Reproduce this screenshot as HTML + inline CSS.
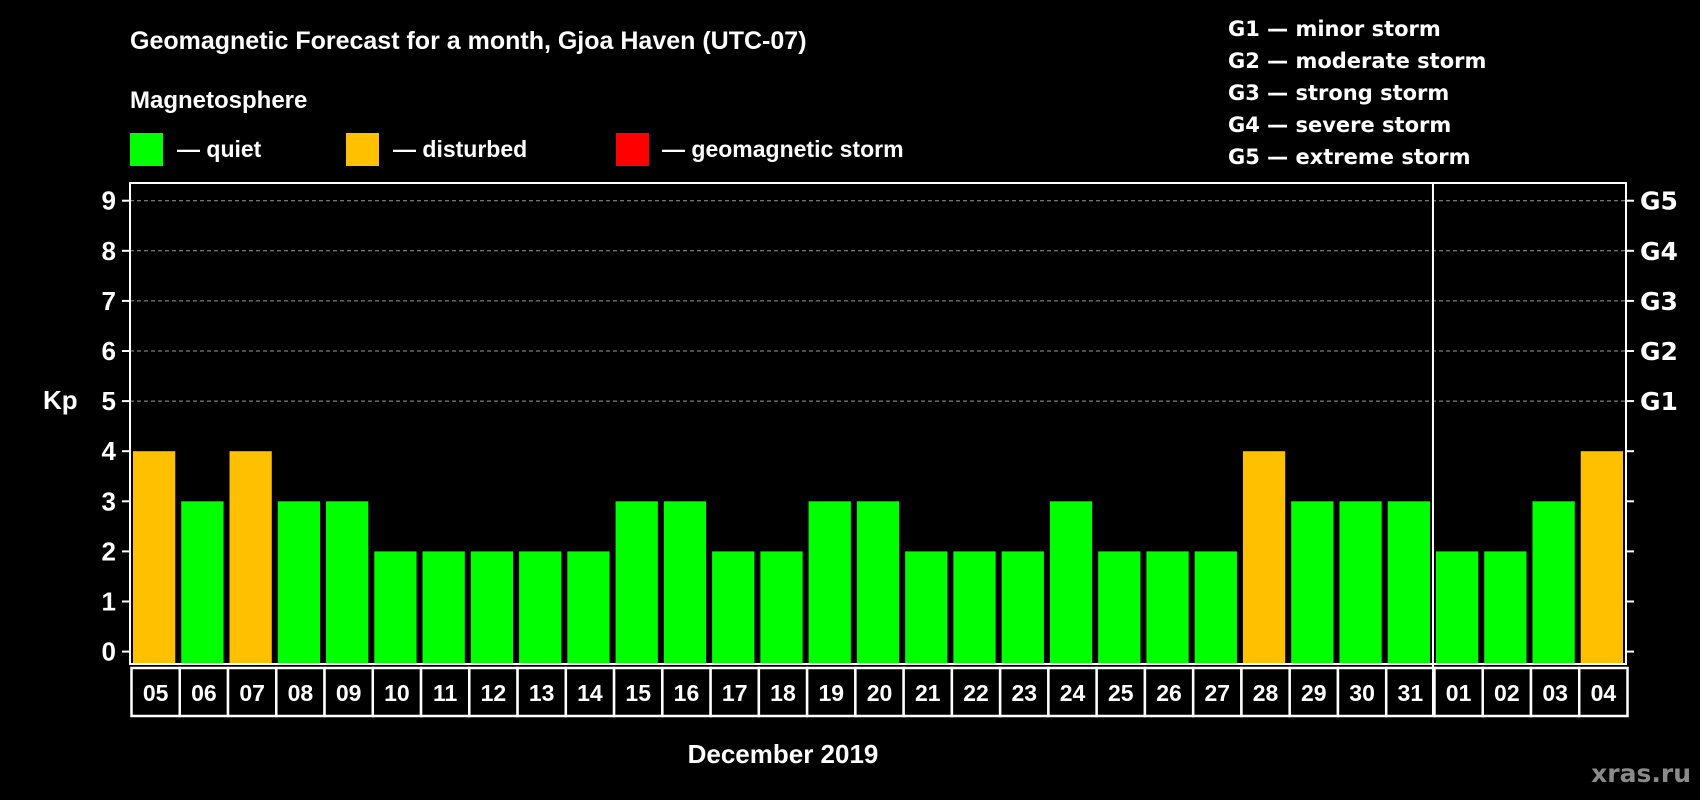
<!DOCTYPE html>
<html><head><meta charset="utf-8"><style>
html,body{margin:0;padding:0;background:#000;}
svg{display:block;}
.t{font-family:"Liberation Sans",sans-serif;font-weight:bold;fill:#fff;}
.d{font-family:"DejaVu Sans",sans-serif;font-weight:bold;fill:#fff;}
</style></head><body>
<svg id="chart" width="1700" height="800" viewBox="0 0 1700 800" xmlns="http://www.w3.org/2000/svg">
<rect width="1700" height="800" fill="#000"/>
<text class="t" x="130" y="49" font-size="25">Geomagnetic Forecast for a month, Gjoa Haven (UTC-07)</text>
<text class="t" x="130" y="108" font-size="24">Magnetosphere</text>
<g><rect x="130" y="133" width="33" height="33" fill="#00ff00"/><text class="t" x="177" y="157" font-size="23">— quiet</text></g>
<g><rect x="346" y="133" width="33" height="33" fill="#ffc000"/><text class="t" x="393" y="157" font-size="23">— disturbed</text></g>
<g><rect x="616" y="133" width="33" height="33" fill="#ff0000"/><text class="t" x="662" y="157" font-size="23">— geomagnetic storm</text></g>
<g>
<text class="d" x="1228" y="36" font-size="21">G1 — minor storm</text>
<text class="d" x="1228" y="68" font-size="21">G2 — moderate storm</text>
<text class="d" x="1228" y="100" font-size="21">G3 — strong storm</text>
<text class="d" x="1228" y="132" font-size="21">G4 — severe storm</text>
<text class="d" x="1228" y="164" font-size="21">G5 — extreme storm</text>
</g>
<g id="grid"></g><g id="bars"></g><g id="axes"></g>
<text class="t" x="43" y="409" font-size="26">Kp</text>
<text class="t" x="783" y="763" font-size="26" text-anchor="middle">December 2019</text>
<text x="1691" y="782" font-size="25" text-anchor="end" font-family="'DejaVu Sans',sans-serif" font-weight="bold" fill="#8a8a8a">xras.ru</text>
</svg>
<script>
const days = ["05","06","07","08","09","10","11","12","13","14","15","16","17","18","19","20","21","22","23","24","25","26","27","28","29","30","31","01","02","03","04"];
const kp = [4,3,4,3,3,2,2,2,2,2,3,3,2,2,3,3,2,2,2,3,2,2,2,4,3,3,3,2,2,3,4];
const yTicks = [0,1,2,3,4,5,6,7,8,9];
const gLabels = ["G1","G2","G3","G4","G5"];
const gLevels = [5,6,7,8,9];
const monthBreakIndex = 27;

const NS="http://www.w3.org/2000/svg";
const L=130,R=1626,T=183,B=664;
const slot=(R-L)/days.length;
function y(v){return 651.6-v*50.1;}
function x(i){return L+i*slot;}
function mk(tag,attrs,parent){const e=document.createElementNS(NS,tag);for(const k in attrs)e.setAttribute(k,attrs[k]);parent.appendChild(e);return e;}
function color(v){return v>=5?"#ff0000":(v>=4?"#ffc000":"#00ff00");}
const grid=document.getElementById("grid"),bars=document.getElementById("bars"),axes=document.getElementById("axes");
gLevels.forEach((lv,i)=>{
  const ln=mk("line",{x1:L,x2:R,y1:y(lv),y2:y(lv),stroke:"#999","stroke-width":1,"stroke-dasharray":"4,3"},grid);
  
  
  const t=mk("text",{x:R+14,y:y(lv)+9,"font-size":25,class:"d"},axes);
  t.textContent=gLabels[i];
  
  
});
kp.forEach((v,i)=>{
  const r=mk("rect",{x:x(i)+3,y:y(v),width:slot-6,height:B-y(v),fill:color(v)},bars);
  
  
  const bx=mk("rect",{x:x(i)+1.5,y:668,width:slot,height:48,fill:"#000",stroke:"#fff","stroke-width":2.5},axes);
  
  
  const t=mk("text",{x:x(i)+1.5+slot/2,y:701,"font-size":23,"text-anchor":"middle",class:"t"},axes);
  t.textContent=days[i];
  
  
});
const frame=mk("rect",{x:L,y:T,width:R-L,height:B-T,fill:"none",stroke:"#fff","stroke-width":2},axes);


const sep=mk("line",{x1:x(monthBreakIndex),x2:x(monthBreakIndex),y1:T,y2:716,stroke:"#fff","stroke-width":2},axes);


yTicks.forEach(v=>{
  mk("line",{x1:L-8,x2:L,y1:y(v),y2:y(v),stroke:"#fff","stroke-width":2},axes);
  const tr=mk("line",{x1:R,x2:R+8,y1:y(v),y2:y(v),stroke:"#fff","stroke-width":2},axes);
  
  
  const t=mk("text",{x:L-14,y:y(v)+9,"font-size":26,"text-anchor":"end",class:"t"},axes);
  t.textContent=v;
  
  
});
</script>
</body></html>
